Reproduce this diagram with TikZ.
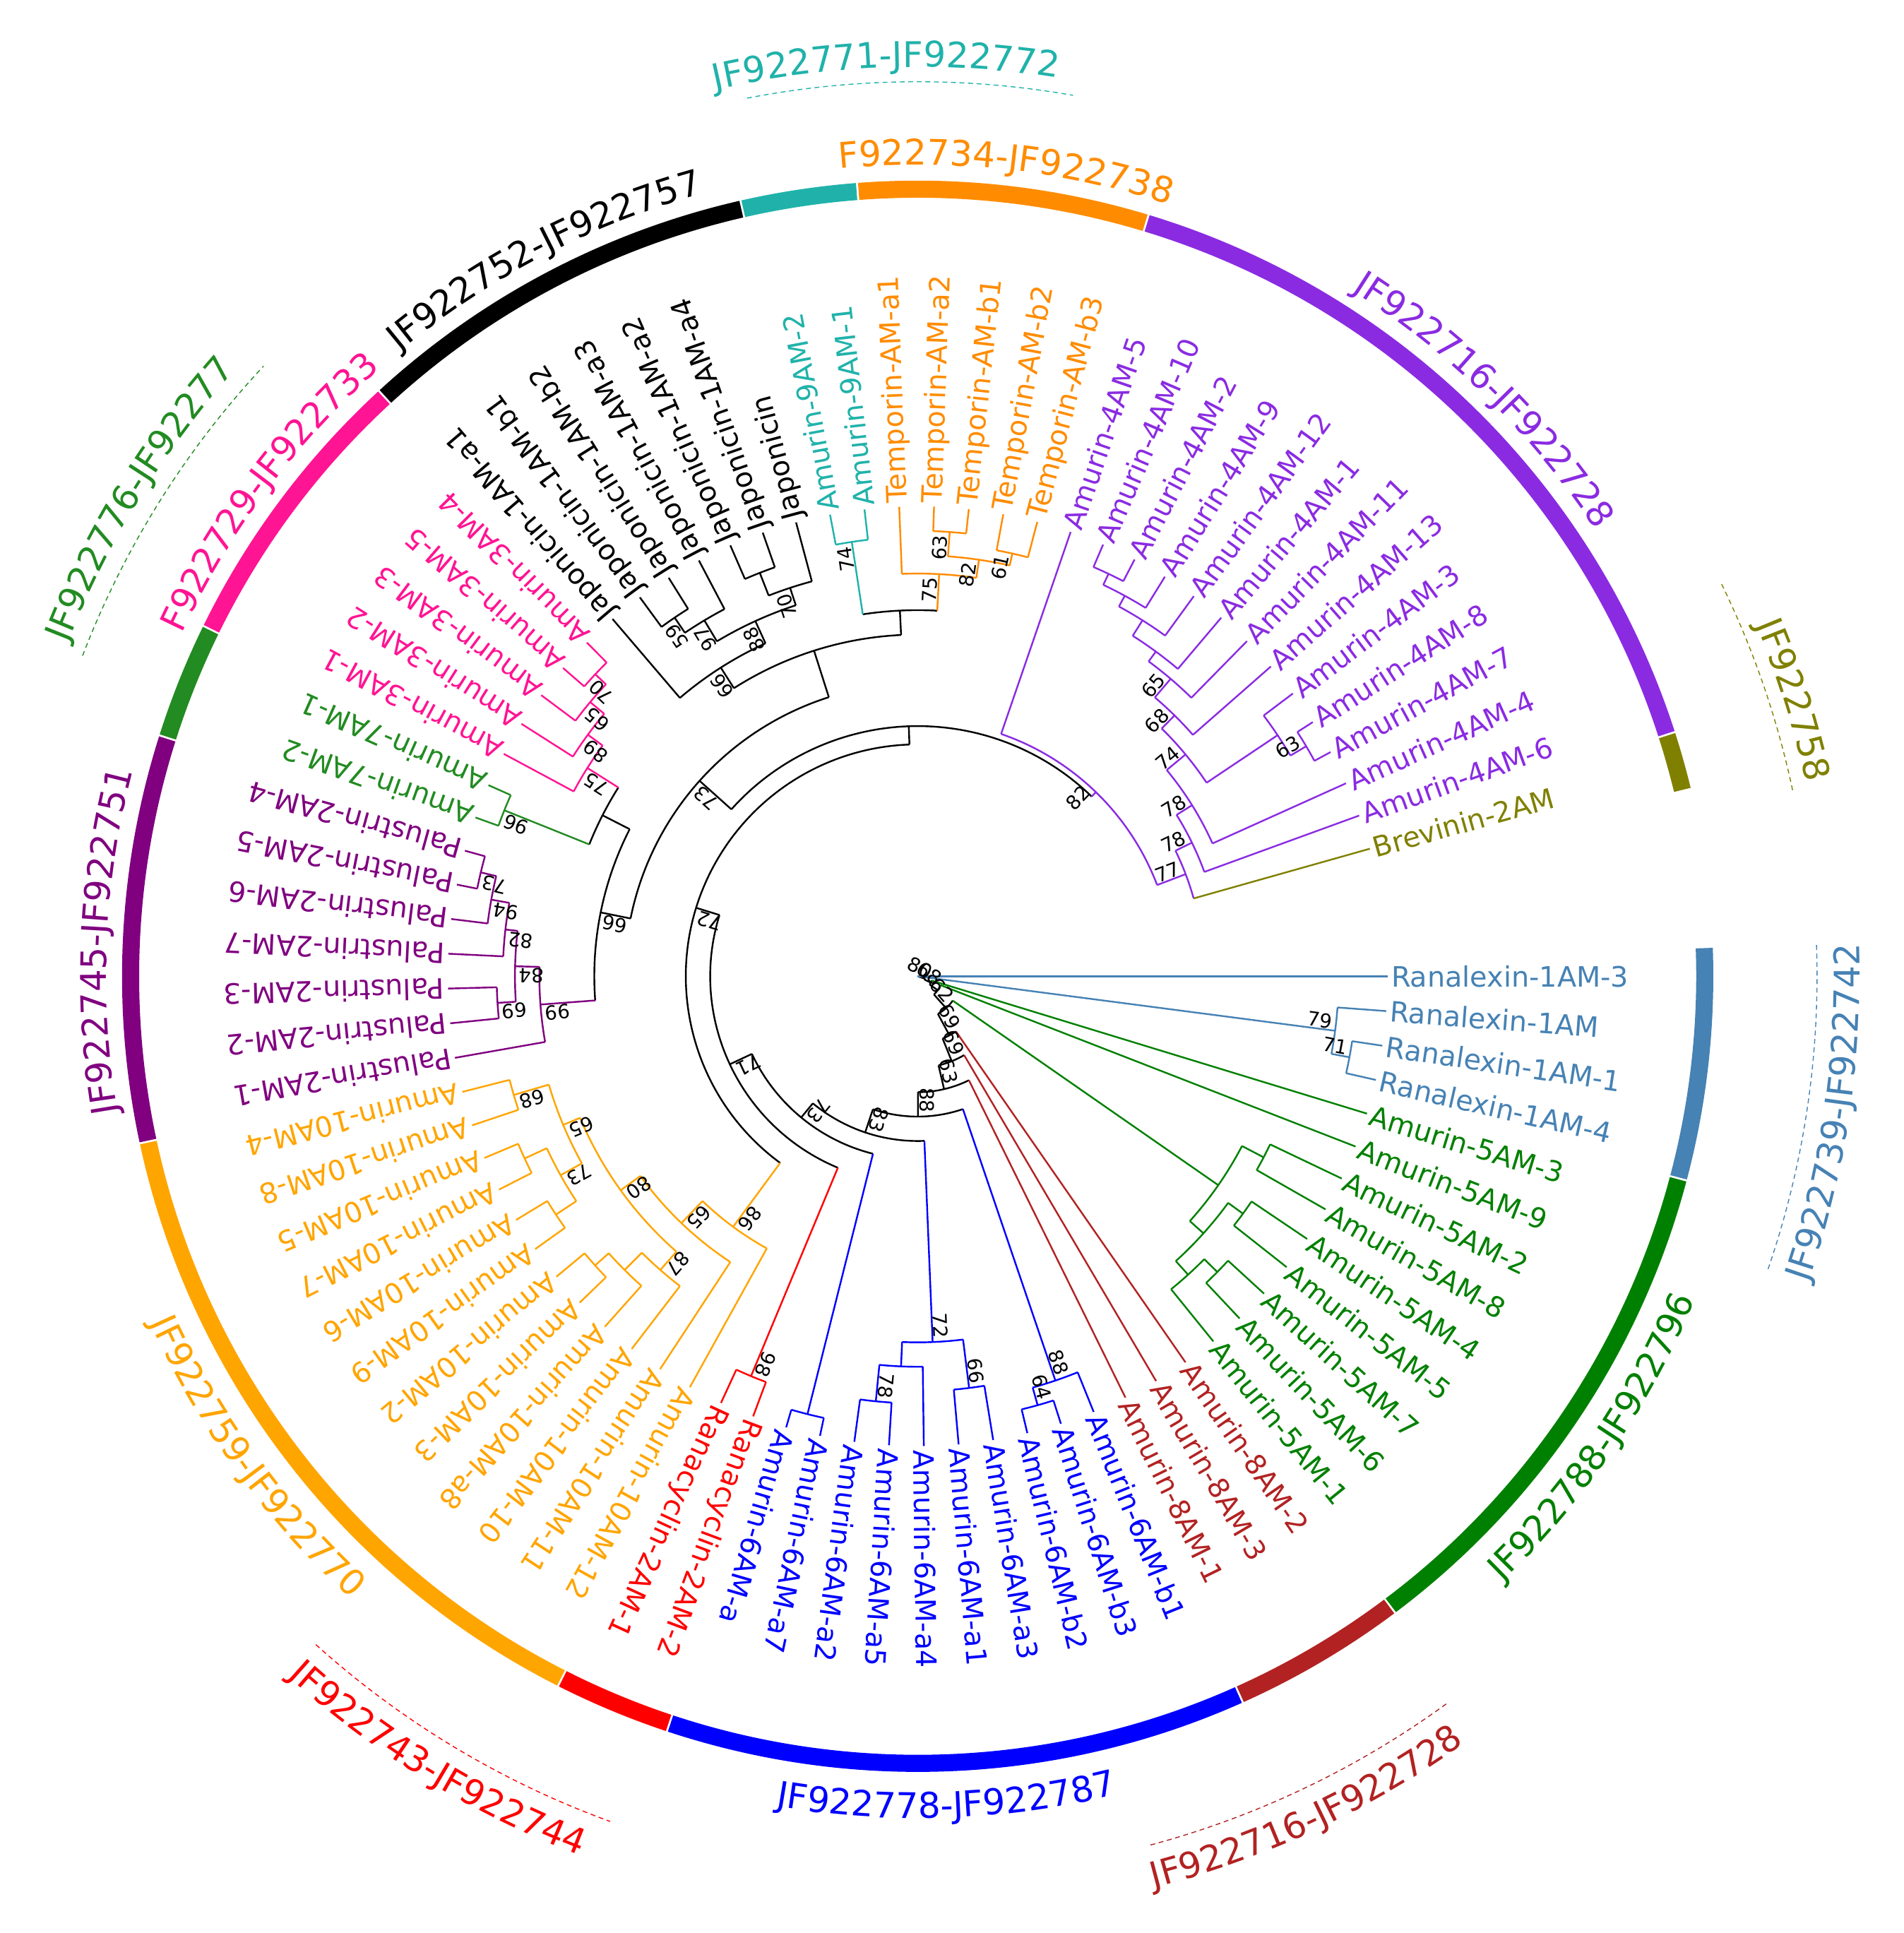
\documentclass[tikz,border=0pt]{standalone}
\usepackage{fontspec}
\setmainfont{DejaVu Sans}
\usetikzlibrary{decorations.text}
\definecolor{sb}{RGB}{70,130,180}
\definecolor{gf}{RGB}{0,128,0}
\definecolor{fb}{RGB}{178,34,34}
\definecolor{bl}{RGB}{0,0,255}
\definecolor{rd}{RGB}{255,0,0}
\definecolor{orr}{RGB}{255,165,0}
\definecolor{pp}{RGB}{128,0,128}
\definecolor{fg}{RGB}{34,139,34}
\definecolor{dp}{RGB}{255,20,147}
\definecolor{tl}{RGB}{32,178,170}
\definecolor{dor}{RGB}{255,140,0}
\definecolor{bv}{RGB}{138,43,226}
\definecolor{ol}{RGB}{128,128,0}
\newcounter{bsn}
\newcommand\Nd[5]{%
 \pgfmathsetmacro\tmpA{-4.25*(#2)}\pgfmathsetmacro\tmpB{-4.25*(#3)}\pgfmathsetmacro\tmpM{-4.25*((#2)+(#3))/2}%
 \draw[tree,#1] (\tmpM:#5pt) -- (\tmpM:#4pt);
 \draw[tree,#1] (\tmpA:#4pt) arc[start angle=\tmpA, end angle=\tmpB, radius=#4pt];}
\newcommand\Lf[5]{%
 \pgfmathsetmacro\tmpA{-4.25*(#3)}%
 \draw[tree,#2] (\tmpA:#4pt) -- (\tmpA:385pt);
 \node[leaf,text=#2,rotate=\tmpA,anchor=west] (l#1) at (\tmpA:388pt) {#5};}
\newcommand\Bs[3]{%
 \pgfmathsetmacro\tmpA{-4.25*(#1)}\stepcounter{bsn}%
 \node[bsl,rotate=\tmpA,anchor=south east] (bs\arabic{bsn}) at (\tmpA:#2pt-2pt) {#3};}
\newcommand\Rg[3]{%
 \pgfmathsetmacro\tmpA{-4.25*(#2)+2.05}\pgfmathsetmacro\tmpB{-4.25*(#3)-2.05}%
 \draw[ring,#1] (\tmpA:645pt) arc[start angle=\tmpA, end angle=\tmpB, radius=645pt];}
\newcommand\rlfont{\fontsize{29}{29}\selectfont}
\newcommand\RL[5]{%
 \path[decorate,decoration={text along path,text align=center,text color=#1,text={|\rlfont|#5}}] (#2:#4pt) arc[start angle=#2,end angle=#3,radius=#4pt];}
\newcommand\DA[4]{\draw[#1,line width=0.8pt,dash pattern=on 4pt off 3pt] (#2:#4pt) arc[start angle=#2,end angle=#3,radius=#4pt];}
\tikzset{
 tree/.style={line width=1.4pt},
 leaf/.style={inner sep=0pt,font=\fontsize{23}{23}\selectfont},
 bsl/.style={inner sep=1pt,font=\fontsize{16}{16}\selectfont,text=black},
 ring/.style={line width=14pt}
}
\begin{document}
\begin{tikzpicture}[x=1pt,y=1pt]
\useasboundingbox[fill=white] (-752,-784) rectangle (808,800);
% ladder
\draw[tree] (0,0) -- ({-4.25*3.92}:6pt);
\Nd{black}{1.75}{6.09}{6}{0}
\Nd{black}{4}{8.18}{12}{6}
\Nd{black}{5}{11.35}{20}{12}
\Nd{black}{8.1875}{14.52}{35}{20}
\Nd{black}{13}{16.04}{55}{35}
\Nd{black}{14}{18.07}{75}{55}
\Nd{black}{15}{21.15}{95}{75}
\Nd{black}{16.75}{25.549}{115}{95}
\Nd{black}{20.625}{30.473}{135}{115}
\Nd{black}{24.5}{36.446}{150}{135}
\Nd{black}{26.5}{46.393}{170}{150}
\Nd{black}{29.734}{63.051}{190}{170}
\Nd{black}{52.203}{73.899}{205}{190}
% Ranalexin
\Nd{sb}{1}{2.5}{345}{6}
\Nd{sb}{2}{3}{360}{345}
% 5AM
\Nd{gf}{6.5}{9.875}{300}{35}
\Nd{gf}{6}{7}{320}{300}
\Nd{gf}{8.5}{11.25}{315}{300}
\Nd{gf}{8}{9}{330}{315}
\Nd{gf}{10.5}{12}{330}{315}
\Nd{gf}{10}{11}{345}{330}
% 6AM
\Nd{bl}{16}{17.5}{350}{115}
\Nd{bl}{17}{18}{365}{350}
\Nd{bl}{19.5}{21.75}{300}{135}
\Nd{bl}{19}{20}{340}{300}
\Nd{bl}{21}{22.5}{320}{300}
\Nd{bl}{22}{23}{350}{320}
\Nd{bl}{24}{25}{370}{150}
% Ranacyclin
\Nd{rd}{26}{27}{355}{170}
% 10AM
\Nd{orr}{28}{31.46875}{255}{190}
\Nd{orr}{29}{33.9375}{280}{255}
\Nd{orr}{30.875}{37}{300}{280}
\Nd{orr}{30}{31.75}{320}{300}
\Nd{orr}{31}{32.5}{340}{320}
\Nd{orr}{32}{33}{355}{340}
\Nd{orr}{35.5}{38.5}{315}{300}
\Nd{orr}{34.5}{36.5}{335}{315}
\Nd{orr}{34}{35}{355}{335}
\Nd{orr}{36}{37}{355}{335}
\Nd{orr}{38}{39}{345}{315}
% T
\Nd{black}{45.03125}{59.375}{240}{205}
\Nd{black}{41.34375}{48.71875}{265}{240}
\Nd{pp}{40}{42.6875}{310}{265}
\Nd{pp}{41.5}{43.875}{330}{310}
\Nd{pp}{41}{42}{345}{330}
\Nd{pp}{43}{44.75}{340}{330}
\Nd{pp}{44}{45.5}{355}{340}
\Nd{pp}{45}{46}{368}{355}
\Nd{black}{47.5}{49.9375}{290}{265}
\Nd{fg}{47}{48}{365}{290}
\Nd{dp}{49}{50.875}{320}{290}
\Nd{dp}{50}{51.75}{335}{320}
\Nd{dp}{51}{52.5}{350}{335}
\Nd{dp}{52}{53}{362}{350}
\Nd{black}{55.875}{62.875}{280}{240}
\Nd{black}{54}{57.75}{300}{280}
\Nd{black}{56.25}{59.25}{320}{300}
\Nd{black}{55.5}{57}{340}{320}
\Nd{black}{55}{56}{355}{340}
\Nd{black}{58.5}{60}{335}{320}
\Nd{black}{58}{59}{355}{335}
\Nd{black}{61.5}{64.25}{300}{280}
\Nd{tl}{61}{62}{360}{300}
\Nd{dor}{63}{65.5}{330}{300}
\Nd{dor}{64.5}{66.5}{345}{330}
\Nd{dor}{64}{65}{365}{345}
\Nd{dor}{66}{67}{355}{345}
% 4AM
\Nd{bv}{68}{79.7979}{210}{205}
\Nd{bv}{78.5957}{81}{235}{210}
\Nd{bv}{77.1914}{80}{250}{235}
\Nd{bv}{75.3828}{79}{265}{250}
\Nd{bv}{74.015625}{76.75}{285}{265}
\Nd{bv}{73.03125}{75}{300}{285}
\Nd{bv}{72.0625}{74}{320}{300}
\Nd{bv}{71.125}{73}{330}{320}
\Nd{bv}{70.25}{72}{345}{330}
\Nd{bv}{69.5}{71}{355}{345}
\Nd{bv}{69}{70}{365}{355}
\Nd{bv}{76}{77.5}{355}{285}
\Nd{bv}{77}{78}{370}{355}
% leaves
\Lf{0}{sb}{0}{0}{Ranalexin-1AM-3}
\Lf{1}{sb}{1}{345}{Ranalexin-1AM}
\Lf{2}{sb}{2}{360}{Ranalexin-1AM-1}
\Lf{3}{sb}{3}{360}{Ranalexin-1AM-4}
\Lf{4}{gf}{4}{12}{Amurin-5AM-3}
\Lf{5}{gf}{5}{20}{Amurin-5AM-9}
\Lf{6}{gf}{6}{320}{Amurin-5AM-2}
\Lf{7}{gf}{7}{320}{Amurin-5AM-8}
\Lf{8}{gf}{8}{330}{Amurin-5AM-4}
\Lf{9}{gf}{9}{330}{Amurin-5AM-5}
\Lf{10}{gf}{10}{345}{Amurin-5AM-7}
\Lf{11}{gf}{11}{345}{Amurin-5AM-6}
\Lf{12}{gf}{12}{330}{Amurin-5AM-1}
\Lf{13}{fb}{13}{55}{Amurin-8AM-2}
\Lf{14}{fb}{14}{75}{Amurin-8AM-3}
\Lf{15}{fb}{15}{95}{Amurin-8AM-1}
\Lf{16}{bl}{16}{350}{Amurin-6AM-b1}
\Lf{17}{bl}{17}{365}{Amurin-6AM-b3}
\Lf{18}{bl}{18}{365}{Amurin-6AM-b2}
\Lf{19}{bl}{19}{340}{Amurin-6AM-a3}
\Lf{20}{bl}{20}{340}{Amurin-6AM-a1}
\Lf{21}{bl}{21}{320}{Amurin-6AM-a4}
\Lf{22}{bl}{22}{350}{Amurin-6AM-a5}
\Lf{23}{bl}{23}{350}{Amurin-6AM-a2}
\Lf{24}{bl}{24}{370}{Amurin-6AM-a7}
\Lf{25}{bl}{25}{370}{Amurin-6AM-a}
\Lf{26}{rd}{26}{355}{Ranacyclin-2AM-2}
\Lf{27}{rd}{27}{355}{Ranacyclin-2AM-1}
\Lf{28}{orr}{28}{255}{Amurin-10AM-12}
\Lf{29}{orr}{29}{280}{Amurin-10AM-11}
\Lf{30}{orr}{30}{320}{Amurin-10AM-10}
\Lf{31}{orr}{31}{340}{Amurin-10AM-a8}
\Lf{32}{orr}{32}{355}{Amurin-10AM-3}
\Lf{33}{orr}{33}{355}{Amurin-10AM-2}
\Lf{34}{orr}{34}{355}{Amurin-10AM-9}
\Lf{35}{orr}{35}{355}{Amurin-10AM-6}
\Lf{36}{orr}{36}{355}{Amurin-10AM-7}
\Lf{37}{orr}{37}{355}{Amurin-10AM-5}
\Lf{38}{orr}{38}{345}{Amurin-10AM-8}
\Lf{39}{orr}{39}{345}{Amurin-10AM-4}
\Lf{40}{pp}{40}{310}{Palustrin-2AM-1}
\Lf{41}{pp}{41}{345}{Palustrin-2AM-2}
\Lf{42}{pp}{42}{345}{Palustrin-2AM-3}
\Lf{43}{pp}{43}{340}{Palustrin-2AM-7}
\Lf{44}{pp}{44}{355}{Palustrin-2AM-6}
\Lf{45}{pp}{45}{368}{Palustrin-2AM-5}
\Lf{46}{pp}{46}{368}{Palustrin-2AM-4}
\Lf{47}{fg}{47}{365}{Amurin-7AM-2}
\Lf{48}{fg}{48}{365}{Amurin-7AM-1}
\Lf{49}{dp}{49}{320}{Amurin-3AM-1}
\Lf{50}{dp}{50}{335}{Amurin-3AM-2}
\Lf{51}{dp}{51}{350}{Amurin-3AM-3}
\Lf{52}{dp}{52}{362}{Amurin-3AM-5}
\Lf{53}{dp}{53}{362}{Amurin-3AM-4}
\Lf{54}{black}{54}{300}{Japonicin-1AM-a1}
\Lf{55}{black}{55}{355}{Japonicin-1AM-b1}
\Lf{56}{black}{56}{355}{Japonicin-1AM-b2}
\Lf{57}{black}{57}{340}{Japonicin-1AM-a3}
\Lf{58}{black}{58}{355}{Japonicin-1AM-a2}
\Lf{59}{black}{59}{355}{Japonicin-1AM-a4}
\Lf{60}{black}{60}{335}{Japonicin}
\Lf{61}{tl}{61}{360}{Amurin-9AM-2}
\Lf{62}{tl}{62}{360}{Amurin-9AM-1}
\Lf{63}{dor}{63}{330}{Temporin-AM-a1}
\Lf{64}{dor}{64}{365}{Temporin-AM-a2}
\Lf{65}{dor}{65}{365}{Temporin-AM-b1}
\Lf{66}{dor}{66}{355}{Temporin-AM-b2}
\Lf{67}{dor}{67}{355}{Temporin-AM-b3}
\Lf{68}{bv}{68}{210}{Amurin-4AM-5}
\Lf{69}{bv}{69}{365}{Amurin-4AM-10}
\Lf{70}{bv}{70}{365}{Amurin-4AM-2}
\Lf{71}{bv}{71}{355}{Amurin-4AM-9}
\Lf{72}{bv}{72}{345}{Amurin-4AM-12}
\Lf{73}{bv}{73}{330}{Amurin-4AM-1}
\Lf{74}{bv}{74}{320}{Amurin-4AM-11}
\Lf{75}{bv}{75}{300}{Amurin-4AM-13}
\Lf{76}{bv}{76}{355}{Amurin-4AM-3}
\Lf{77}{bv}{77}{370}{Amurin-4AM-8}
\Lf{78}{bv}{78}{370}{Amurin-4AM-7}
\Lf{79}{bv}{79}{265}{Amurin-4AM-4}
\Lf{80}{bv}{80}{250}{Amurin-4AM-6}
\Lf{81}{ol}{81}{235}{Brevinin-2AM}
% bootstrap values
\Bs{73.899}{210}{82}\Bs{79.7979}{235}{77}\Bs{78.5957}{250}{78}\Bs{77.1914}{265}{78}
\Bs{75.3828}{285}{74}\Bs{74.0156}{300}{68}\Bs{73.0313}{320}{65}\Bs{77.5}{370}{63}
\Bs{64.25}{330}{75}\Bs{65.5}{345}{82}\Bs{64.5}{365}{63}\Bs{66.5}{355}{61}\Bs{61.5}{360}{74}
\Bs{55.875}{300}{66}\Bs{57.75}{320}{88}\Bs{56.25}{340}{97}\Bs{55.5}{355}{59}\Bs{59.25}{335}{70}
\Bs{52.203}{240}{73}
\Bs{49.9375}{320}{75}\Bs{50.875}{335}{89}\Bs{51.75}{350}{65}\Bs{52.5}{362}{70}
\Bs{47.5}{365}{96}\Bs{45.031}{265}{66}
\Bs{41.344}{310}{99}\Bs{42.6875}{330}{84}\Bs{41.5}{345}{69}\Bs{43.875}{340}{82}\Bs{44.75}{355}{94}\Bs{45.5}{368}{73}
\Bs{46.393}{190}{72}\Bs{29.734}{255}{86}\Bs{31.469}{280}{65}\Bs{33.9375}{300}{80}\Bs{30.875}{320}{87}
\Bs{37}{315}{65}\Bs{35.5}{335}{73}\Bs{38.5}{345}{68}
\Bs{36.446}{170}{71}\Bs{30.473}{150}{73}\Bs{25.549}{135}{83}\Bs{21.15}{115}{88}
\Bs{26.5}{355}{98}\Bs{20.625}{300}{72}\Bs{19.5}{340}{66}\Bs{22.5}{350}{78}
\Bs{16.75}{350}{88}\Bs{17.5}{365}{64}\Bs{1.75}{345}{79}\Bs{2.5}{360}{71}
\Bs{18.07}{95}{63}\Bs{16.04}{75}{69}\Bs{14.52}{55}{69}\Bs{11.35}{35}{62}\Bs{8.18}{20}{68}\Bs{6.09}{12}{80}
% ring
\Rg{sb}{0}{3}\Rg{gf}{4}{12}\Rg{fb}{13}{15}\Rg{bl}{16}{25}\Rg{rd}{26}{27}\Rg{orr}{28}{39}
\Rg{pp}{40}{46}\Rg{fg}{47}{48}\Rg{dp}{49}{53}\Rg{black}{54}{60}\Rg{tl}{61}{62}\Rg{dor}{63}{67}
\Rg{bv}{68}{80}\Rg{ol}{81}{81}
% ring labels
\RL{bv}{66}{25}{665}{JF922716-JF922728}
\RL{ol}{30}{5}{745}{JF922758}\DA{ol}{26}{12}{733}
\RL{dor}{104}{63.5}{665}{F922734-JF922738}
\RL{tl}{113}{71}{745}{JF922771-JF922772}\DA{tl}{101}{80}{733}
\RL{black}{138}{97}{665}{JF922752-JF922757}
\RL{dp}{163}{123.5}{665}{F922729-JF922733}
\RL{fg}{168}{129}{748}{JF922776-JF92277}\DA{fg}{159}{137}{733}
\RL{pp}{198}{157}{665}{JF922745-JF922751}
\RL{orr}{196}{236}{690}{JF922759-JF922770}
\RL{rd}{-141.5}{-101.5}{772}{JF922743-JF922744}\DA{rd}{-132}{-110}{737}
\RL{bl}{-108}{-68}{690}{JF922778-JF922787}
\RL{fb}{-85}{-45}{772}{JF922716-JF922728}\DA{fb}{-75}{-54}{737}
\RL{gf}{-54.3}{-14.3}{690}{JF922788-JF922796}
\RL{sb}{-28.5}{11.5}{772}{JF922739-JF922742}\DA{sb}{-19}{2}{737}
\end{tikzpicture}
\end{document}
